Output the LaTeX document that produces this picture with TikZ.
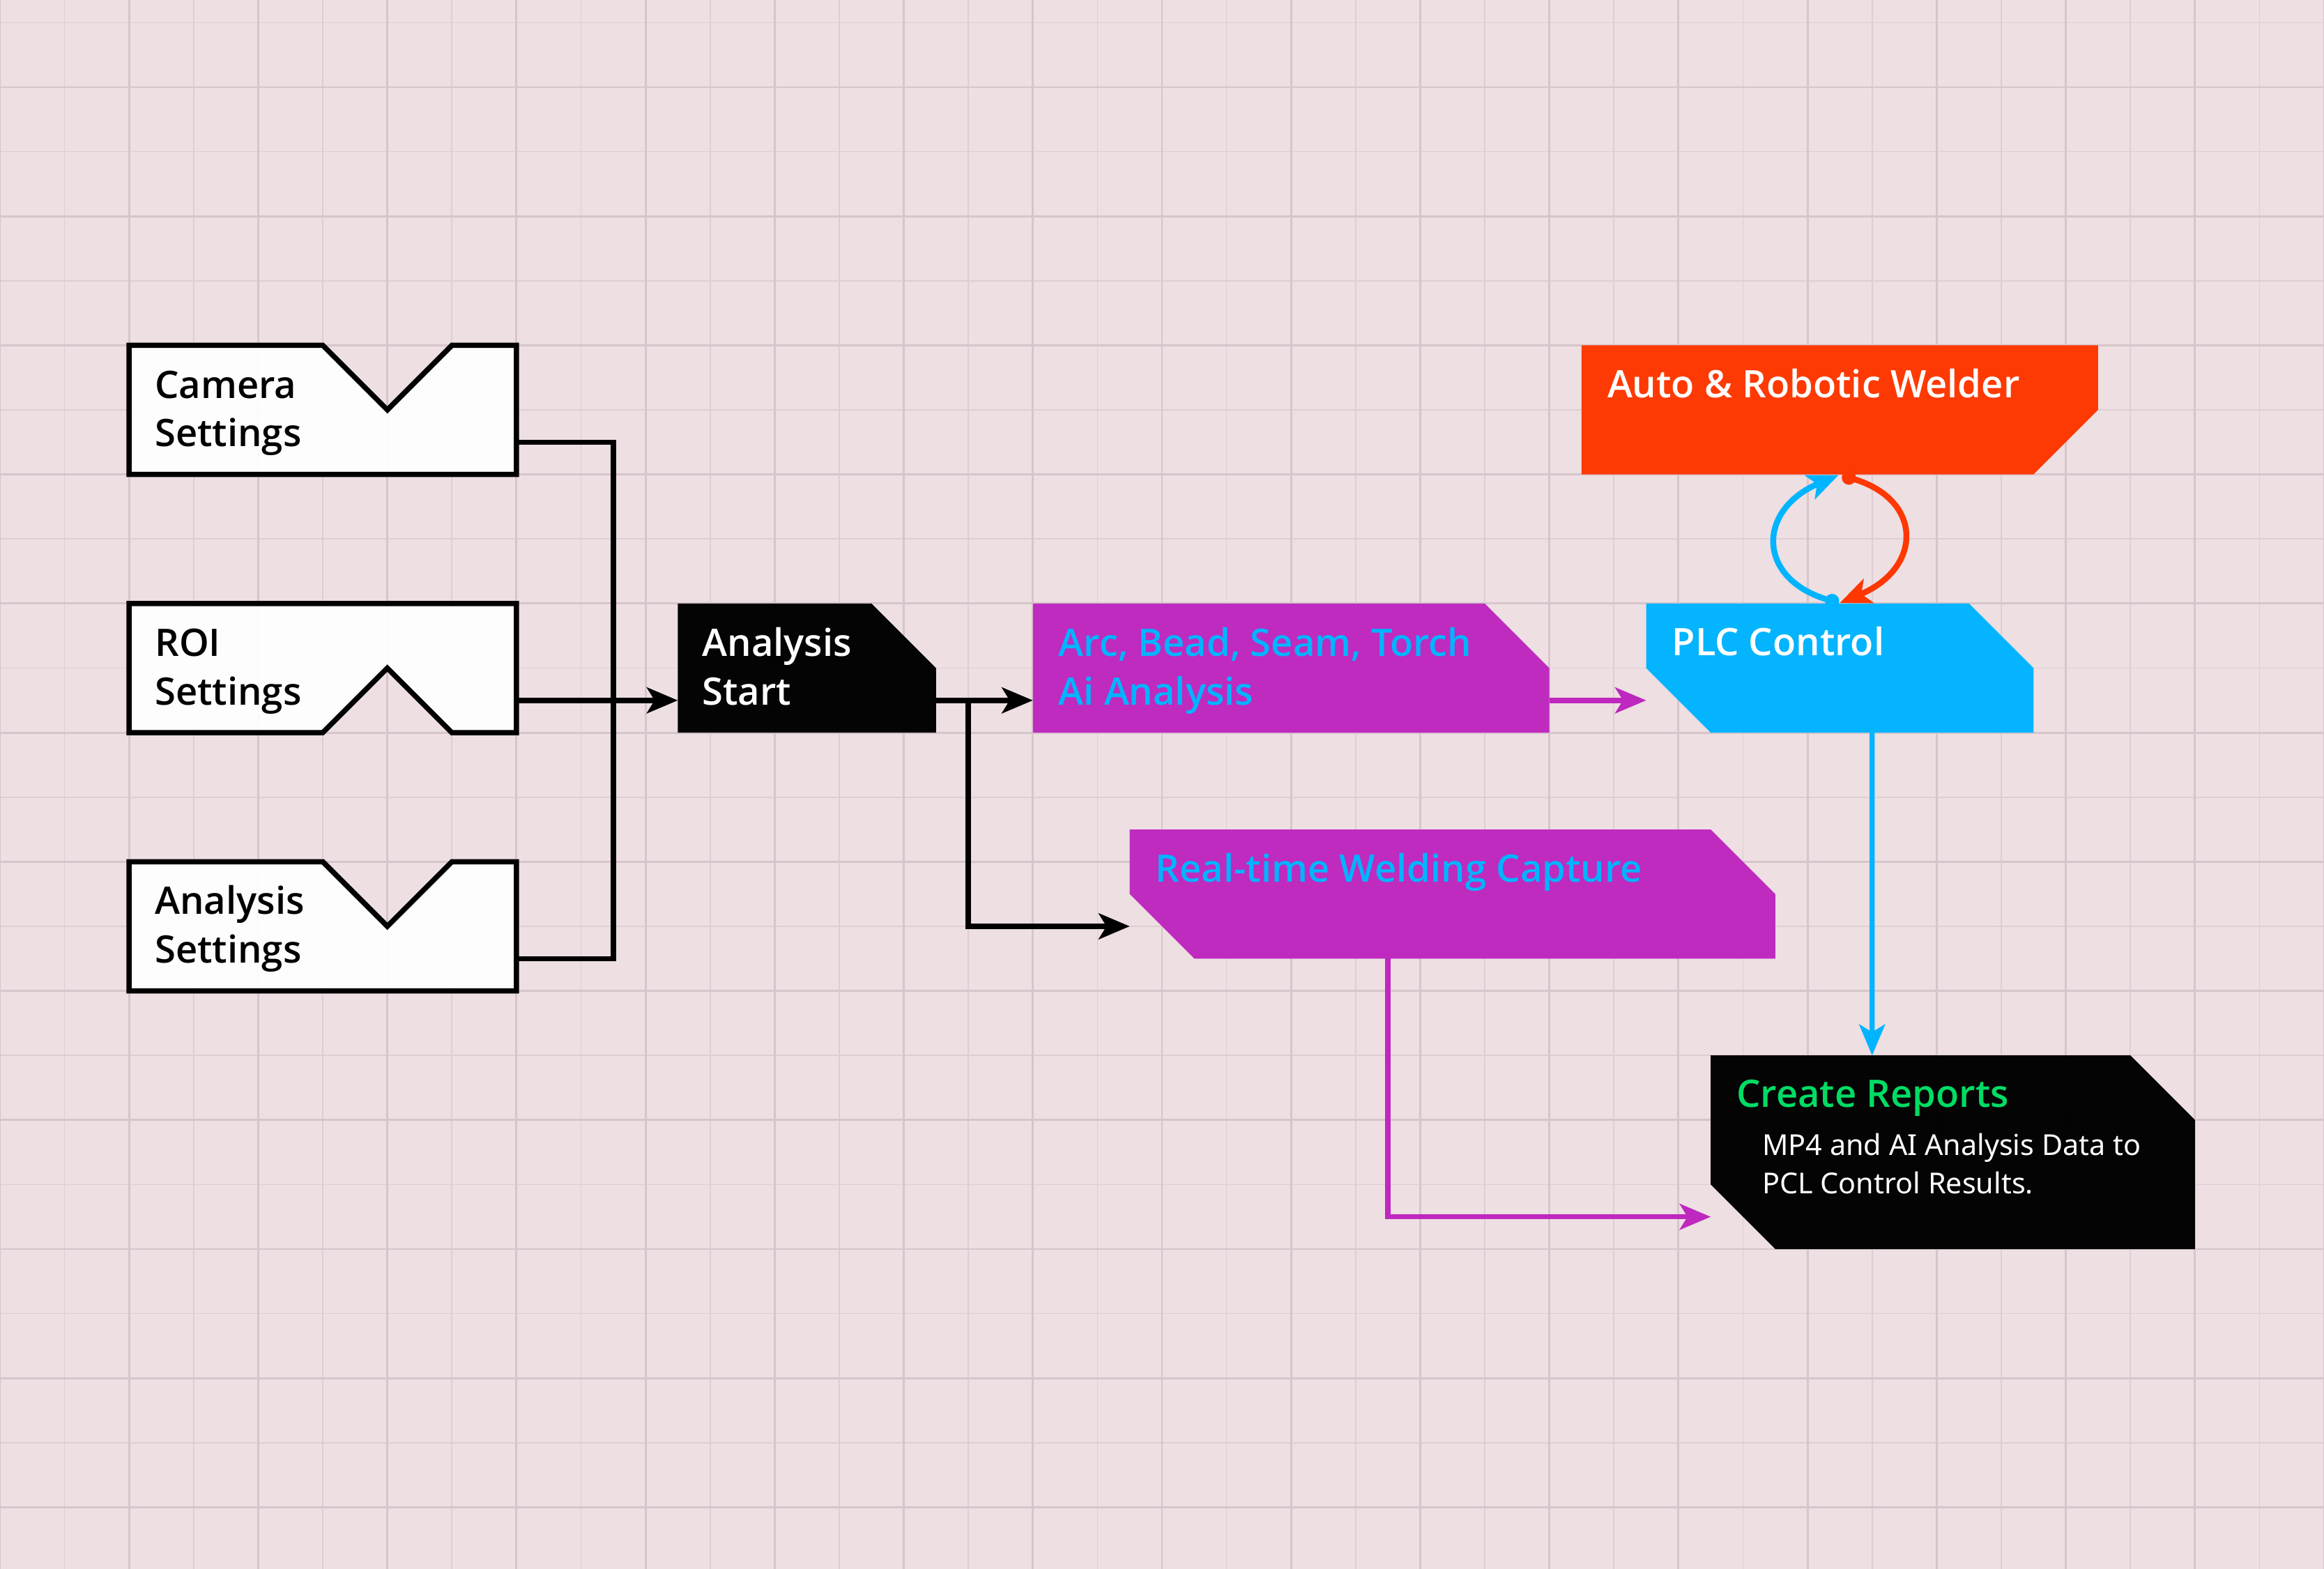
\documentclass[tikz,border=0pt]{standalone}
\usepackage{fontspec}
\setmainfont{Noto Sans}
\IfFontExistsTF{Open Sans SemiBold}{\newfontfamily\semib{Open Sans SemiBold}}{%
 \IfFontExistsTF{Open Sans Semibold}{\newfontfamily\semib{Open Sans Semibold}}{%
  \IfFontExistsTF{Noto Sans Medium}{\newfontfamily\semib{Noto Sans Medium}}{%
   \IfFontExistsTF{Lato Semibold}{\newfontfamily\semib{Lato Semibold}}{%
    \IfFontExistsTF{Fira Sans Medium}{\newfontfamily\semib{Fira Sans Medium}}{%
     \IfFontExistsTF{Open Sans Bold}{\newfontfamily\semib{Open Sans Bold}}{%
      \newfontfamily\semib{Noto Sans}}}}}}}
\usetikzlibrary{arrows.meta,calc}
\definecolor{bgc}{HTML}{EDDFE2}
\definecolor{gridminor}{HTML}{DECED3}
\definecolor{gridmajor}{HTML}{D6C5CB}
\definecolor{magc}{HTML}{BE28BE}
\definecolor{cyanc}{HTML}{00B4FF}
\definecolor{redc}{HTML}{FF3700}
\definecolor{greenc}{HTML}{00DC64}
\tikzset{
  frame/.style={inner sep=0pt,outer sep=0pt,draw=none},
  outl/.style={draw=black,fill=white,fill opacity=0.94,line width=1.15pt},
  shp/.style={fill opacity=0.98},
  lbl/.style={anchor=base west,inner sep=0pt,outer sep=0pt,font=\semib\fontsize{8.35}{10}\selectfont},
  small/.style={anchor=base west,inner sep=0pt,outer sep=0pt,font=\fontsize{6.35}{8}\selectfont,text=white},
  conn/.style={draw=black,line width=1.15pt},
  mconn/.style={draw=magc,line width=1.15pt},
  bconn/.style={draw=cyanc,line width=1.1pt},
  arr/.style={-{Stealth[length=0.24cm,width=0.2cm,inset=0.06cm]}},
  loopline/.style={line width=1.3pt},
}
\begin{document}
\begin{tikzpicture}[x=1cm,y=1cm]
% background and grid
\fill[bgc] (0,0) rectangle (18,-12.153);
\useasboundingbox (0,0) rectangle (18,-12.153);
\foreach \i in {0,...,36} {
  \draw[gridminor,line width=0.25pt] (\i*0.5,0) -- (\i*0.5,-12.153);
}
\foreach \k in {0,...,23} {
  \draw[gridminor,line width=0.25pt] (0,-0.175-\k*0.5) -- (18,-0.175-\k*0.5);
}
\foreach \i in {0,...,18} {
  \draw[gridmajor,line width=0.45pt] (\i,0) -- (\i,-12.153);
}
\foreach \k in {0,...,11} {
  \draw[gridmajor,line width=0.45pt] (0,-0.675-\k) -- (18,-0.675-\k);
}

% frames (named nodes)
\node[frame,minimum width=3cm,minimum height=1cm] (cam) at (2.5,-3.175) {};
\node[frame,minimum width=3cm,minimum height=1cm] (roi) at (2.5,-5.175) {};
\node[frame,minimum width=3cm,minimum height=1cm] (aset) at (2.5,-7.175) {};
\node[frame,minimum width=2cm,minimum height=1cm] (start) at (6.25,-5.175) {};
\node[frame,minimum width=4cm,minimum height=1cm] (arc) at (10,-5.175) {};
\node[frame,minimum width=5cm,minimum height=1cm] (rt) at (11.25,-6.925) {};
\node[frame,minimum width=4cm,minimum height=1cm] (weld) at (14.25,-3.175) {};
\node[frame,minimum width=3cm,minimum height=1cm] (plc) at (14.25,-5.175) {};
\node[frame,minimum width=3.75cm,minimum height=1.5cm] (rep) at (15.125,-8.925) {};

% shapes
\draw[outl] (cam.north west) -- (cam.north) -- ($(cam.center)+(0.5,0)$) -- ($(cam.north)+(1,0)$) -- (cam.north east) -- (cam.south east) -- (cam.south west) -- cycle;
\draw[outl] (roi.north west) -- (roi.north east) -- (roi.south east) -- ($(roi.south)+(1,0)$) -- ($(roi.center)+(0.5,0)$) -- (roi.south) -- (roi.south west) -- cycle;
\draw[outl] (aset.north west) -- (aset.north) -- ($(aset.center)+(0.5,0)$) -- ($(aset.north)+(1,0)$) -- (aset.north east) -- (aset.south east) -- (aset.south west) -- cycle;
\fill[black,shp] (start.north west) -- ($(start.north east)+(-0.5,0)$) -- ($(start.north east)+(0,-0.5)$) -- (start.south east) -- (start.south west) -- cycle;
\fill[magc,shp] (arc.north west) -- ($(arc.north east)+(-0.5,0)$) -- ($(arc.north east)+(0,-0.5)$) -- (arc.south east) -- (arc.south west) -- cycle;
\fill[magc,shp] (rt.north west) -- ($(rt.north east)+(-0.5,0)$) -- ($(rt.north east)+(0,-0.5)$) -- (rt.south east) -- ($(rt.south west)+(0.5,0)$) -- ($(rt.south west)+(0,0.5)$) -- cycle;
\fill[redc,shp] (weld.north west) -- (weld.north east) -- ($(weld.south east)+(0,0.5)$) -- ($(weld.south east)+(-0.5,0)$) -- (weld.south west) -- cycle;
\fill[cyanc,shp] (plc.north west) -- ($(plc.north east)+(-0.5,0)$) -- ($(plc.north east)+(0,-0.5)$) -- (plc.south east) -- ($(plc.south west)+(0.5,0)$) -- ($(plc.south west)+(0,0.5)$) -- cycle;
\fill[black,shp] (rep.north west) -- ($(rep.north east)+(-0.5,0)$) -- ($(rep.north east)+(0,-0.5)$) -- (rep.south east) -- ($(rep.south west)+(0.5,0)$) -- ($(rep.south west)+(0,0.5)$) -- cycle;

% texts
\node[lbl] (cam-a) at ($(cam.north west)+(0.2,-0.408)$) {Camera};
\node[lbl] (cam-b) at ($(cam.north west)+(0.2,-0.785)$) {Settings};
\node[lbl] (roi-a) at ($(roi.north west)+(0.2,-0.408)$) {ROI};
\node[lbl] (roi-b) at ($(roi.north west)+(0.2,-0.785)$) {Settings};
\node[lbl] (aset-a) at ($(aset.north west)+(0.2,-0.408)$) {Analysis};
\node[lbl] (aset-b) at ($(aset.north west)+(0.2,-0.785)$) {Settings};
\node[lbl,text=white] (start-a) at ($(start.north west)+(0.19,-0.408)$) {Analysis};
\node[lbl,text=white] (start-b) at ($(start.north west)+(0.19,-0.785)$) {Start};
\node[lbl,text=cyanc] (arc-a) at ($(arc.north west)+(0.2,-0.408)$) {Arc, Bead, Seam, Torch};
\node[lbl,text=cyanc] (arc-b) at ($(arc.north west)+(0.2,-0.785)$) {Ai Analysis};
\node[lbl,text=cyanc] (rt-a) at ($(rt.north west)+(0.2,-0.405)$) {Real-time Welding Capture};
\node[lbl,text=white] (weld-a) at ($(weld.north west)+(0.2,-0.405)$) {Auto \& Robotic Welder};
\node[lbl,text=white] (plc-a) at ($(plc.north west)+(0.2,-0.405)$) {PLC Control};
\node[lbl,text=greenc] (rep-a) at ($(rep.north west)+(0.2,-0.4)$) {Create Reports};
\node[small] (rep-b) at ($(rep.north west)+(0.4,-0.775)$) {MP4 and AI Analysis Data to};
\node[small] (rep-c) at ($(rep.north west)+(0.4,-1.07)$) {PCL Control Results.};

% connectors
\coordinate (busT) at ($(cam.south east)+(0.75,0.25)$);
\coordinate (busB) at ($(aset.south east)+(0.75,0.25)$);
\draw[conn] ($(cam.south east)+(0,0.25)$) -- (busT) -- (busB) -- ($(aset.south east)+(0,0.25)$);
\draw[conn,arr] ($(roi.south east)+(0,0.25)$) -- ($(start.south west)+(0,0.25)$);
\draw[conn,arr] ($(start.south east)+(0,0.25)$) -- ($(arc.south west)+(0,0.25)$);
\coordinate (br) at ($(start.south east)+(0.25,0.25)$);
\draw[conn,arr] (br) |- ($(rt.south west)+(0,0.25)$);
\draw[mconn,arr] ($(arc.south east)+(0,0.25)$) -- ($(plc.south west)+(0,0.25)$);
\draw[bconn,arr] ($(plc.south)+(0.25,0)$) -- ($(rep.north west)+(1.25,0)$);
\draw[mconn,arr] ($(rt.south west)+(2,0)$) |- ($(rep.south west)+(0,0.25)$);

% loop between welder and PLC
\coordinate (bst) at ($(plc.north)+(-0.06,0.02)$);
\coordinate (rst) at ($(weld.south)+(0.07,-0.025)$);
\draw[cyanc,loopline,arr] (bst) .. controls (13.6,-4.5) and (13.6,-3.95) .. ($(weld.south)+(-0.01,-0.005)$);
\draw[redc,loopline,arr] (rst) .. controls (14.9,-3.85) and (14.9,-4.4) .. ($(plc.north)+(0,0.005)$);
\fill[cyanc] (bst) circle (0.055);
\fill[redc] (rst) circle (0.055);
\end{tikzpicture}
\end{document}
